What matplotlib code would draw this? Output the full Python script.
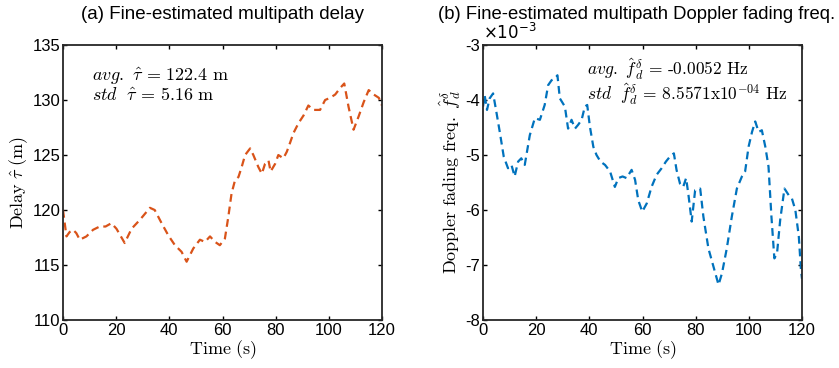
import matplotlib
matplotlib.use('Agg')
import matplotlib.pyplot as plt
import numpy as np
from matplotlib.ticker import FuncFormatter

plt.rcParams['font.family'] = ['Liberation Sans', 'DejaVu Sans']
plt.rcParams['mathtext.fontset'] = 'cm'

# (a) multipath delay
t_delay = [0, 1.3, 2.5, 3.8, 5.0, 6.3, 8.8, 11.3, 13.8, 16.0, 18.2, 20.1, 23.2,
           25.8, 28.9, 32.7, 34.5, 37.1, 39.6, 42.1, 44.6, 46.5, 49.0, 51.5,
           53.4, 55.3, 57.2, 59.0, 60.9, 62.2, 63.4, 64.7, 66.0, 67.2, 68.5,
           70.4, 71.6, 73.5, 74.8, 76.0, 77.3, 78.1, 79.8, 81.0, 82.9, 84.2,
           85.4, 86.7, 88.6, 90.5, 92.3, 94.2, 96.7, 98.6, 100.5, 102.4, 104.3,
           105.8, 107.4, 109.3, 111.2, 113.1, 115.0, 116.9, 118.8, 120.0]
delay = [120.0, 117.6, 118.0, 118.2, 117.9, 117.3, 117.6, 118.2, 118.5, 118.5,
         118.8, 118.3, 117.0, 118.3, 119.1, 120.2, 120.0, 118.8, 117.7, 116.8,
         116.2, 115.3, 116.5, 117.3, 117.1, 117.6, 117.1, 116.8, 117.4, 119.4,
         121.5, 122.7, 123.0, 123.9, 125.0, 125.6, 125.0, 123.9, 123.3, 124.2,
         124.5, 123.5, 124.2, 125.0, 124.7, 125.3, 126.1, 127.0, 127.9, 128.6,
         129.5, 129.1, 129.1, 130.0, 130.2, 130.5, 131.1, 131.5, 129.4, 127.3,
         128.5, 129.8, 130.9, 130.5, 130.2, 129.5]

# (b) Doppler fading frequency (x1e-3 Hz)
t_dop = [0, 0.6, 1.5, 2.5, 3.8, 5.0, 6.3, 7.8, 9.4, 10.7, 11.9, 13.2, 14.4, 15.7,
         17.6, 19.5, 21.4, 23.2, 24.5, 25.8, 27.0, 28.0, 28.9, 30.8, 32.0, 33.3,
         34.6, 35.8, 37.1, 38.3, 39.2, 40.2, 41.5, 42.7, 44.2, 45.9, 47.8, 49.6,
         50.9, 52.5, 54.0, 55.9, 57.2, 58.4, 59.9, 61.6, 63.4, 65.3, 67.2, 68.8,
         70.3, 71.8, 72.8, 74.1, 75.3, 76.4, 77.3, 78.5, 79.8, 81.7, 82.9, 84.8,
         86.7, 88.6, 89.9, 91.7, 93.6, 95.5, 97.4, 98.6, 99.9, 101.2, 102.4,
         103.7, 104.9, 106.2, 107.4, 108.5, 109.6, 110.6, 111.8, 113.4, 115.0,
         116.2, 117.5, 118.8, 119.6, 120.0]
doppler = [-4.12, -3.91, -4.18, -3.97, -3.88, -4.21, -4.58, -5.03, -5.24, -5.18,
           -5.39, -5.12, -5.06, -5.18, -4.64, -4.33, -4.36, -4.09, -3.73, -3.64,
           -3.61, -3.55, -3.97, -4.12, -4.52, -4.36, -4.52, -4.45, -4.36, -4.12,
           -4.09, -4.48, -4.85, -5.00, -5.12, -5.18, -5.30, -5.58, -5.42, -5.39,
           -5.42, -5.27, -5.45, -5.82, -6.03, -5.88, -5.58, -5.36, -5.24, -5.12,
           -5.03, -4.97, -5.27, -5.52, -5.58, -5.42, -5.73, -6.21, -5.64, -5.61,
           -6.12, -6.70, -7.03, -7.36, -7.15, -6.70, -6.12, -5.61, -5.39, -5.30,
           -4.85, -4.58, -4.39, -4.58, -4.55, -4.85, -5.21, -6.12, -6.88, -6.79,
           -6.18, -5.61, -5.73, -5.79, -6.00, -6.48, -7.09, -7.25]
doppler = np.array(doppler) * 1e-3

fig = plt.figure(figsize=(8.39, 3.68), dpi=100)
ax1 = fig.add_axes([0.0751, 0.1304, 0.3802, 0.7473])
ax2 = fig.add_axes([0.5757, 0.1304, 0.3802, 0.7473])

def style(ax):
    ax.tick_params(direction='in', length=3, width=1, top=True, right=True,
                   labelsize=12, pad=2, colors='black')
    for s in ax.spines.values():
        s.set_linewidth(1.3)
        s.set_color('#262626')
    ax.set_xlim(0, 120)
    ax.set_xticks(range(0, 121, 20))
    ax.set_xlabel(r'$\mathrm{Time\ (s)}$', fontsize=13, labelpad=0)

ax1.plot(t_delay, delay, ls=(0, (3.5, 2.2)), color='#D95319', lw=1.6)
style(ax1)
ax1.set_ylim(110, 135)
ax1.set_yticks(range(110, 136, 5))
ax1.set_ylabel(r'$\mathrm{Delay}\ \hat{\tau}\ \mathrm{(m)}$', fontsize=13, labelpad=2)
ax1.set_title('(a) Fine-estimated multipath delay', fontsize=13.5, pad=19)
ax1.text(11, 132.1, r'$avg.\ \hat{\tau}\,=\,122.4\ \mathrm{m}$', fontsize=13, va='center')
ax1.text(11, 130.3, r'$std\ \ \hat{\tau}\,=\,5.16\ \mathrm{m}$', fontsize=13, va='center')

ax2.plot(t_dop, doppler, ls=(0, (3.5, 2.2)), color='#0072BD', lw=1.6)
style(ax2)
ax2.set_ylim(-8e-3, -3e-3)
ax2.set_yticks(np.arange(-8, -2.9, 1) * 1e-3)
ax2.yaxis.set_major_formatter(FuncFormatter(lambda v, p: '%d' % round(v * 1e3)))
ax2.set_ylabel(r'$\mathrm{Doppler\ fading\ freq.}\ \hat{f}_d^{\delta}$', fontsize=13, labelpad=2)
ax2.set_title('(b) Fine-estimated multipath Doppler fading freq.', fontsize=13.3, pad=19, x=0.48)
ax2.text(0.0, 1.01, r'$\times10^{-3}$', transform=ax2.transAxes, fontsize=12,
         math_fontfamily='dejavusans', va='bottom')
ax2.text(39, -3.45e-3, r'$avg.\ \hat{f}_d^{\delta}\,=\,\text{-0.0052 Hz}$', fontsize=12.5, va='center')
ax2.text(39, -3.89e-3, r'$std\ \ \hat{f}_d^{\delta}\,=\,\mathrm{8.5571x10^{-04}\ Hz}$', fontsize=12.5, va='center')

fig.savefig('out.png', dpi=100, facecolor='white')
